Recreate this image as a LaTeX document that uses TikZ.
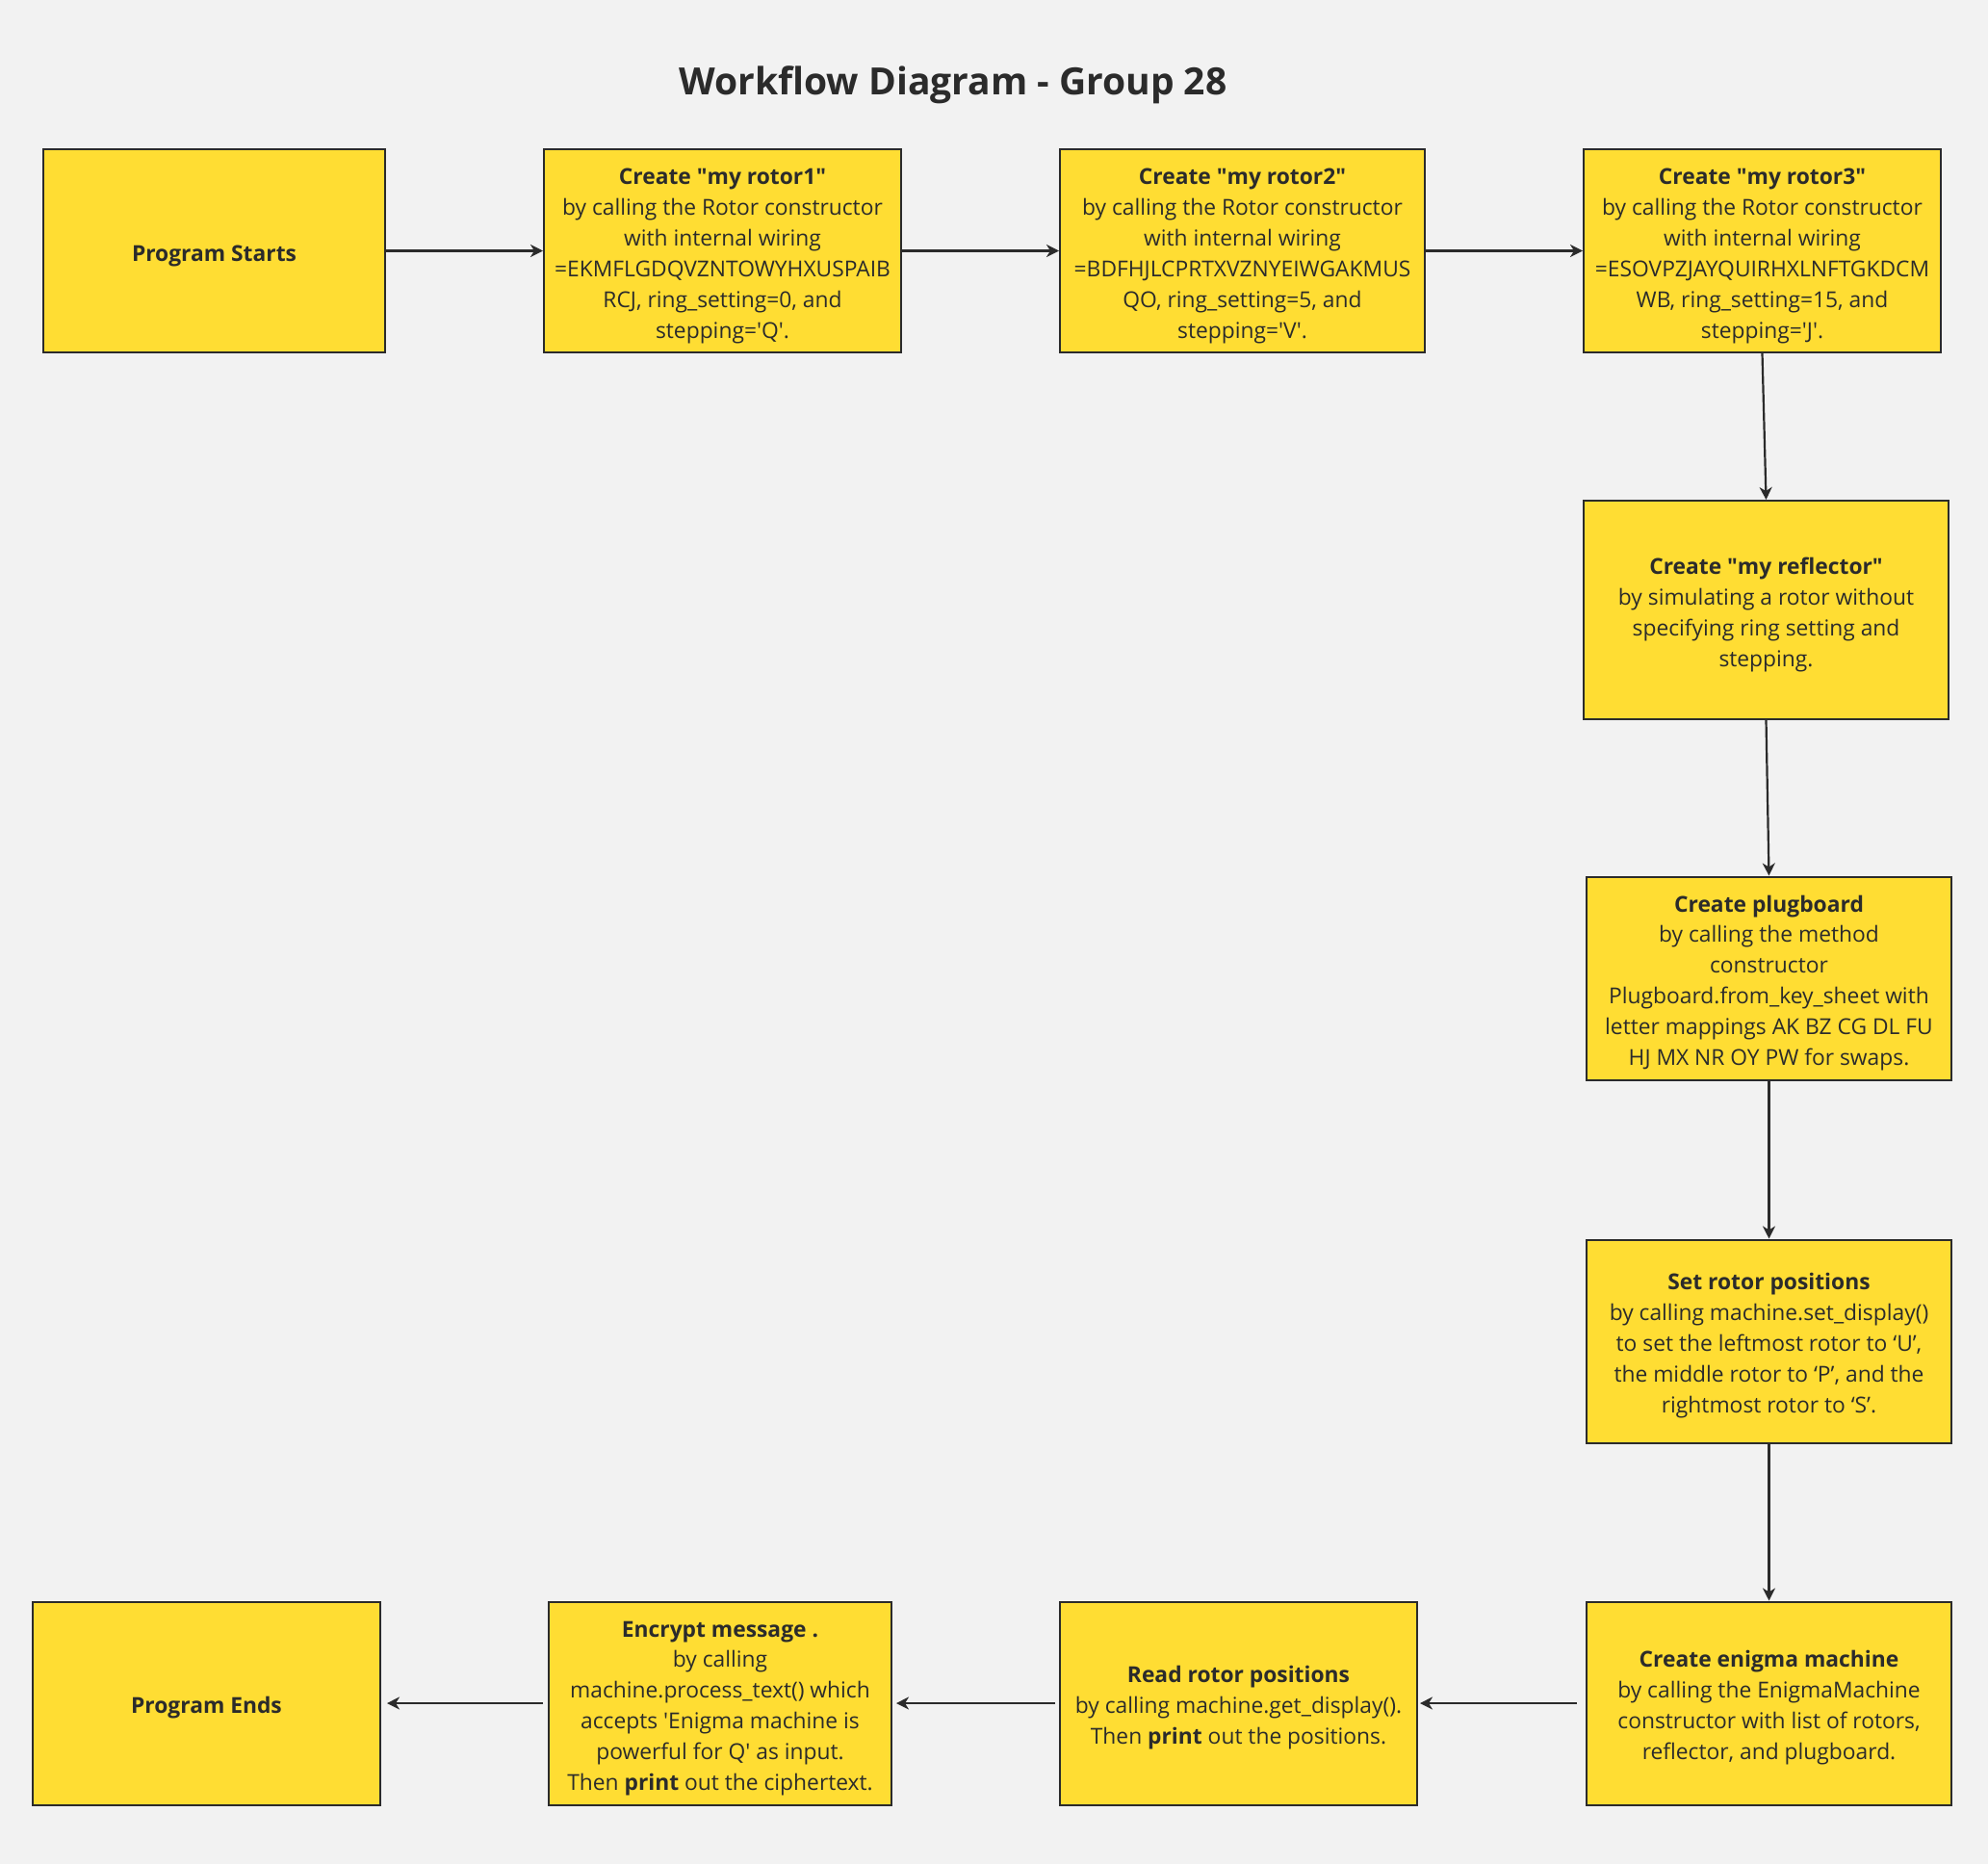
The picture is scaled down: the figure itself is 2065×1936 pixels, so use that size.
\documentclass[tikz,border=0pt]{standalone}
\usepackage{fontspec}
\setmainfont{Open Sans}
\usepackage{tikz}
\usetikzlibrary{arrows.meta}
\definecolor{bgcol}{HTML}{F2F2F2}
\definecolor{boxcol}{HTML}{FFDD33}
\definecolor{inkcol}{HTML}{2B2B2B}
\newcommand{\sq}{\textquotesingle}
\newcommand{\dq}{\textquotedbl}
\newcommand{\topgap}{\rule{0pt}{27pt}}

\begin{document}
\begin{tikzpicture}[x=1pt, y=-1pt,
    stepbox/.style={draw=inkcol, fill=boxcol, line width=2pt, align=center, text=inkcol,
        minimum width=#1, minimum height=211pt, inner sep=0pt,
        font=\fontsize{22.8}{31.9}\selectfont},
    flow/.style={-{Stealth[length=13pt, width=13pt, inset=4pt]}, draw=inkcol, line width=2.2pt}]
    \fill[bgcol] (0,0) rectangle (2065,1936);
    \useasboundingbox (0,0) rectangle (2065,1936);
    \node[text=inkcol, font=\fontsize{39}{44}\selectfont\bfseries] (title) at (990,88) {Workflow Diagram - Group 28};
    % top row
    \node[stepbox=355pt] (start) at (222.5,260.5) {\topgap\textbf{Program Starts}};
    \node[stepbox=371pt] (rotor1) at (750.5,260.5) {\topgap\textbf{Create \dq my rotor1\dq}\\by calling the Rotor constructor\\with internal wiring\\=EKMFLGDQVZNTOWYHXUSPAIB\\RCJ, ring\_setting=0, and\\stepping=\sq Q\sq.};
    \node[stepbox=379pt] (rotor2) at (1290.5,260.5) {\topgap\textbf{Create \dq my rotor2\dq}\\by calling the Rotor constructor\\with internal wiring\\=BDFHJLCPRTXVZNYEIWGAKMUS\\QO, ring\_setting=5, and\\stepping=\sq V\sq.};
    \node[stepbox=371pt] (rotor3) at (1830.5,260.5) {\topgap\textbf{Create \dq my rotor3\dq}\\by calling the Rotor constructor\\with internal wiring\\=ESOVPZJAYQUIRHXLNFTGKDCM\\WB, ring\_setting=15, and\\stepping=\sq J\sq.};
    % right column
    \node[stepbox=379pt, minimum height=227pt] (reflector) at (1834.5,633.5) {\topgap\textbf{Create \dq my reflector\dq}\\by simulating a rotor without\\specifying ring setting and\\stepping.};
    \node[stepbox=379pt] (plugboard) at (1837.5,1016) {\topgap\textbf{Create plugboard}\\by calling the method\\constructor\\Plugboard.from\_key\_sheet with\\letter mappings AK BZ CG DL FU\\HJ MX NR OY PW for swaps.};
    \node[stepbox=379pt] (setpos) at (1837.5,1393) {\topgap\textbf{Set rotor positions}\\by calling machine.set\_display()\\to set the leftmost rotor to ‘U’,\\the middle rotor to ‘P’, and the\\rightmost rotor to ‘S’.};
    % bottom row
    \node[stepbox=379pt] (enigma) at (1837.5,1769) {\topgap\textbf{Create enigma machine}\\by calling the EnigmaMachine\\constructor with list of rotors,\\reflector, and plugboard.};
    \node[stepbox=371pt] (readpos) at (1286.5,1769) {\topgap\textbf{Read rotor positions}\\by calling machine.get\_display().\\Then \textbf{print} out the positions.};
    \node[stepbox=356pt] (encrypt) at (748,1769) {\topgap\textbf{Encrypt message .}\\by calling\\machine.process\_text() which\\accepts \sq Enigma machine is\\powerful for Q\sq\ as input.\\Then \textbf{print} out the ciphertext.};
    \node[stepbox=361pt] (finish) at (214.5,1769) {\topgap\textbf{Program Ends}};
    % connectors
    \draw[flow] (start) to (rotor1);
    \draw[flow] (rotor1) to (rotor2);
    \draw[flow] (rotor2) to (rotor3);
    \draw[flow] (rotor3.south) to (reflector.north);
    \draw[flow] (reflector.south) to (plugboard.north);
    \draw[flow] (plugboard.south) to (setpos.north);
    \draw[flow] (setpos.south) to (enigma.north);
    \draw[flow, shorten <=9pt, shorten >=2pt] (enigma) to (readpos);
    \draw[flow, shorten <=4pt, shorten >=4pt] (readpos) to (encrypt);
    \draw[flow, shorten <=5pt, shorten >=6pt] (encrypt) to (finish);
\end{tikzpicture}
\end{document}
